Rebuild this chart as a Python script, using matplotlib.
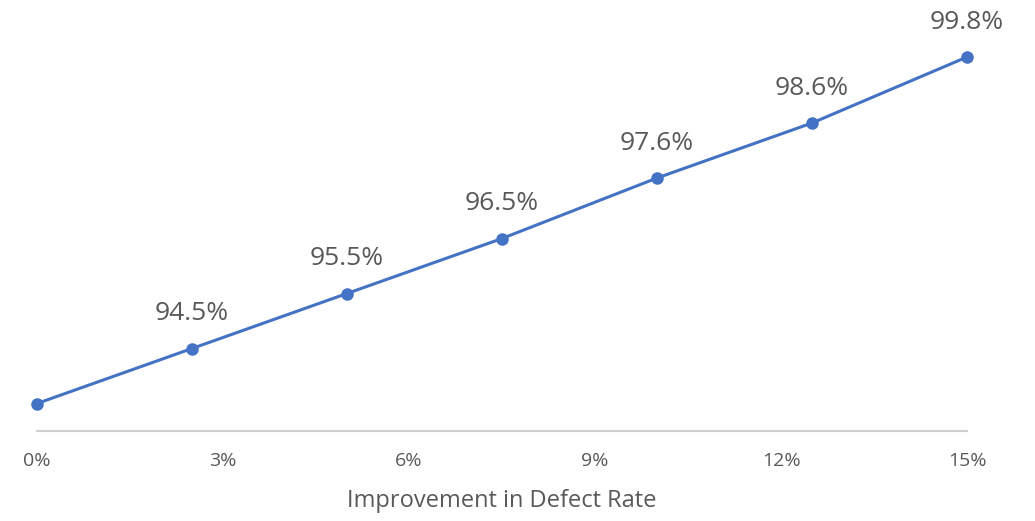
import matplotlib.pyplot as plt
from matplotlib.ticker import FuncFormatter

# Yield vs improvement in defect rate
improvement = [0.0, 2.5, 5.0, 7.5, 10.0, 12.5, 15.0]
yield_pct = [93.5, 94.5, 95.5, 96.5, 97.6, 98.6, 99.8]
show_label = [False, True, True, True, True, True, True]
x_ticks = [0, 3, 6, 9, 12, 15]

line_color = '#4472C4'
text_color = '#595959'

plt.rcParams['font.family'] = ['Open Sans', 'DejaVu Sans']

fig = plt.figure(figsize=(10.35, 5.21), dpi=100)
ax = fig.add_axes([37 / 1035, 90 / 521, 930 / 1035, 385 / 521])

ax.plot(improvement, yield_pct, color=line_color, linewidth=2.2,
        marker='o', markersize=8, zorder=3, clip_on=False)

for x, y, show in zip(improvement, yield_pct, show_label):
    if show:
        ax.annotate(f'{y:.1f}%', (x, y), xytext=(0, 16), textcoords='offset points',
                    ha='center', va='bottom', fontsize=19, color=text_color)

ax.set_xlim(0, 15)
ax.set_ylim(93.0, 100.0)
ax.set_xticks(x_ticks)
ax.xaxis.set_major_formatter(FuncFormatter(lambda v, _: f'{v:.0f}%'))
ax.tick_params(axis='x', length=0, pad=15, labelsize=14, labelcolor=text_color)
ax.set_yticks([])

for side in ['top', 'right', 'left']:
    ax.spines[side].set_visible(False)
ax.spines['bottom'].set_color('#D0D0D0')
ax.spines['bottom'].set_linewidth(1.5)

ax.set_xlabel('Improvement in Defect Rate', fontsize=17, color=text_color, labelpad=14)

fig.savefig('out.png', dpi=100)
